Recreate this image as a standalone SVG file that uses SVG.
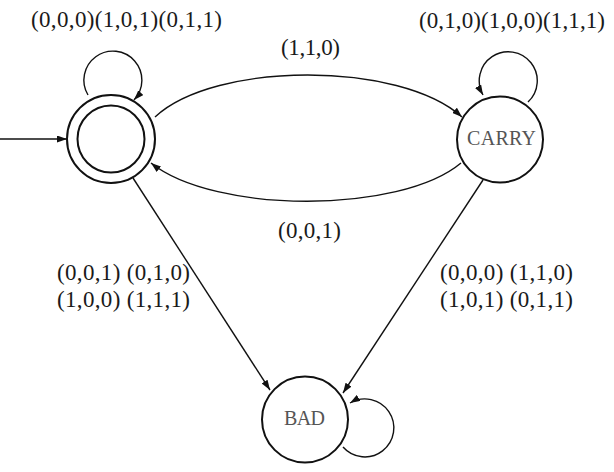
<svg xmlns="http://www.w3.org/2000/svg" width="614" height="472" viewBox="0 0 614 472">
<style>
.node{fill:#fff;stroke:#111;stroke-width:2}
.edge{fill:none;stroke:#111;stroke-width:1.4}
.lbl{font-size:23px;fill:#1a1a1a}
.nl{font-size:20px;fill:#555}
</style>
<defs>
<marker id="arr" markerUnits="userSpaceOnUse" markerWidth="10" markerHeight="7" refX="10" refY="3.5" orient="auto">
<path d="M0,0 L10,3.5 L0,7 z" fill="#111"/>
</marker>
</defs>
<g id="connectors" font-family="Liberation Serif, Times New Roman, DejaVu Serif, serif">
<path class="edge" d="M0,139 L67,139" marker-end="url(#arr)"/>
<path class="edge" d="M88,95 A29,29 0 1,1 134,100" marker-end="url(#arr)"/>
<path class="edge" d="M528,102 A29,29 0 1,0 483,95" marker-end="url(#arr)"/>
<path class="edge" d="M343,447 A29,29 0 1,0 350,403" marker-end="url(#arr)"/>
<path class="edge" d="M155,117 C215,61 400,61 462,117" marker-end="url(#arr)"/>
<path class="edge" d="M461,163 C400,214 215,214 151,163" marker-end="url(#arr)"/>
<path class="edge" d="M133,178 L270,390" marker-end="url(#arr)"/>
<path class="edge" d="M483,180 L343,393" marker-end="url(#arr)"/>
<text class="lbl" x="31" y="27" textLength="191" lengthAdjust="spacing">(0,0,0)(1,0,1)(0,1,1)</text>
<text class="lbl" x="281" y="55" textLength="59" lengthAdjust="spacing">(1,1,0)</text>
<text class="lbl" x="419" y="28" textLength="186" lengthAdjust="spacing">(0,1,0)(1,0,0)(1,1,1)</text>
<text class="lbl" x="278" y="238" textLength="63" lengthAdjust="spacing">(0,0,1)</text>
<text class="lbl" x="57" y="280" textLength="133" lengthAdjust="spacing">(0,0,1) (0,1,0)</text>
<text class="lbl" x="57" y="307" textLength="133" lengthAdjust="spacing">(1,0,0) (1,1,1)</text>
<text class="lbl" x="440" y="280" textLength="133" lengthAdjust="spacing">(0,0,0) (1,1,0)</text>
<text class="lbl" x="440" y="307" textLength="133" lengthAdjust="spacing">(1,0,1) (0,1,1)</text>
</g>
<g id="start">
<circle class="node" cx="111" cy="139" r="44"/>
<circle class="node" cx="111" cy="139" r="33.5" stroke-width="1.6"/>
</g>
<g id="carry" font-family="Liberation Serif, Times New Roman, DejaVu Serif, serif">
<circle class="node" cx="500" cy="139.5" r="43"/>
<text class="nl" x="501.5" y="145" text-anchor="middle" textLength="69" lengthAdjust="spacing">CARRY</text>
</g>
<g id="bad" font-family="Liberation Serif, Times New Roman, DejaVu Serif, serif">
<circle class="node" cx="305" cy="419.5" r="43"/>
<text class="nl" x="304.5" y="425" text-anchor="middle" textLength="41" lengthAdjust="spacing">BAD</text>
</g>
</svg>
